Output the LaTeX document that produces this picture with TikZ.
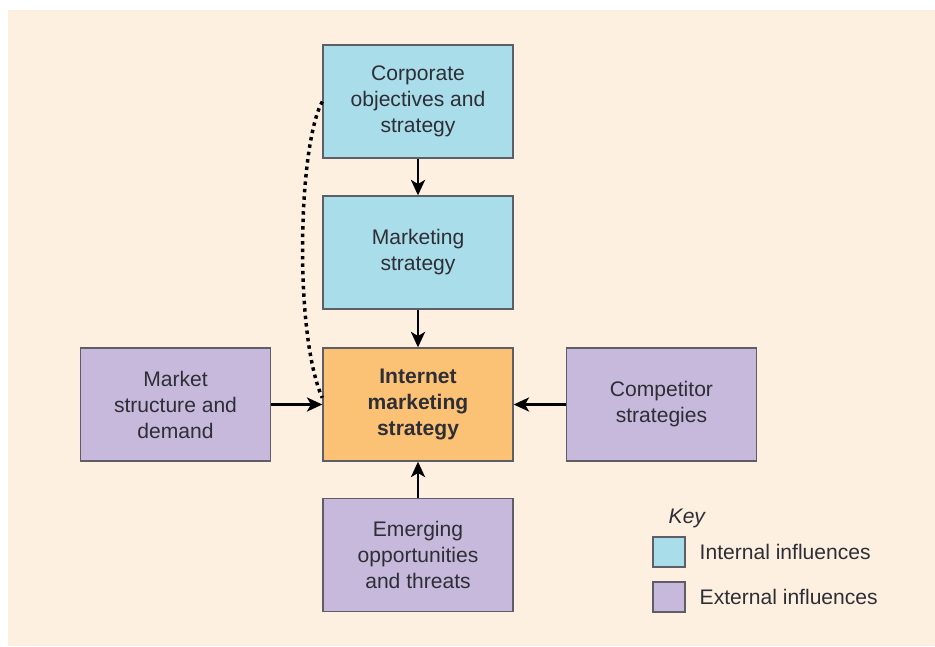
\documentclass[tikz,border=0pt]{standalone}
\usepackage{fontspec}
\setmainfont{Liberation Sans}
\usetikzlibrary{arrows.meta}
\definecolor{cream}{HTML}{FDF0E0}
\definecolor{internal}{HTML}{A8DDE9}
\definecolor{external}{HTML}{C6B9DC}
\definecolor{core}{HTML}{FBC174}
\definecolor{edge}{HTML}{5E5E66}
\definecolor{ink}{HTML}{2E2E36}
\begin{document}
\begin{tikzpicture}[x=0.75pt,y=-0.75pt,
  box/.style={draw=edge, line width=1pt, minimum width=142.5pt, minimum height=84.75pt,
    align=center, font=\fontsize{15.8}{19.5}\selectfont, text=ink, inner sep=2pt},
  inbox/.style={box, fill=internal},
  exbox/.style={box, fill=external},
  flow/.style={line width=2.2pt, -{Stealth[length=11.5pt,width=10.5pt,inset=3pt]}},
  swatch/.style={draw=edge, line width=1pt, minimum width=24pt, minimum height=22.5pt, inner sep=0pt},
  keytext/.style={anchor=west, font=\fontsize{15.8}{18}\selectfont, text=ink}]
  \useasboundingbox (0,0) rectangle (935,646);
  \fill[white] (0,0) rectangle (935,646);
  \fill[cream] (8,10) rectangle (935,646);

  % boxes
  \node[inbox] (corp) at (418,101.5) {Corporate\\objectives and\\strategy};
  \node[inbox] (mkt)  at (418,252.5) {Marketing\\strategy};
  \node[box, fill=core, font=\fontsize{15.8}{19.5}\selectfont\bfseries] (ims) at (418,404.5) {Internet\\marketing\\strategy};
  \node[exbox] (msd)  at (175.5,404.5) {Market\\structure and\\demand};
  \node[exbox] (comp) at (661.5,404.5) {Competitor\\strategies};
  \node[exbox] (emo)  at (418,555) {Emerging\\opportunities\\and threats};

  % influences
  \draw[flow] (corp) -- (mkt);
  \draw[flow] (mkt) -- (ims);
  \draw[flow] (msd) -- (ims);
  \draw[flow] (comp) -- (ims);
  \draw[flow] (emo) -- (ims);

  % feedback link
  \coordinate (fbA) at ([yshift=0pt]corp.west);
  \coordinate (fbB) at ([yshift=5pt]ims.west);
  \draw[line width=2.6pt, dash pattern=on 2.6pt off 3pt]
    (fbA) .. controls (298,145) and (294,335) .. (fbB);

  % key
  \node[anchor=west, font=\fontsize{15.8}{18}\selectfont\itshape, text=ink] (keyt) at (664,518) {Key};
  \node[swatch, fill=internal] (swi) at (669,552) {};
  \node[swatch, fill=external] (swe) at (669,597) {};
  \node[keytext] (li) at (695,552) {Internal influences};
  \node[keytext] (le) at (695,597) {External influences};
\end{tikzpicture}
\end{document}
